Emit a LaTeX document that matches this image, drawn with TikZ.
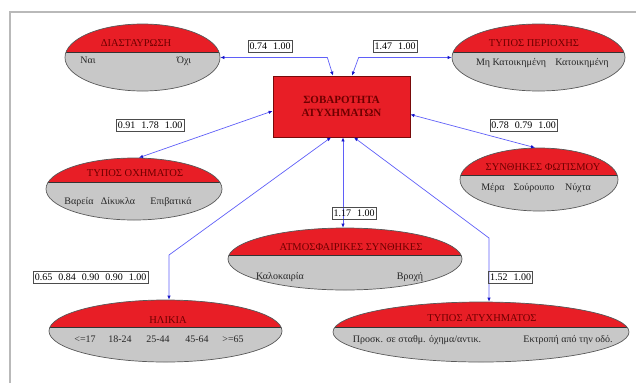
\documentclass[tikz,border=0pt]{standalone}
\usepackage{fontspec}
\setmainfont{Liberation Serif}
\usetikzlibrary{shapes.geometric,arrows.meta}
\definecolor{redfill}{RGB}{232,30,38}
\definecolor{grayfill}{RGB}{200,200,200}
\definecolor{titlecol}{RGB}{110,0,0}
\definecolor{rectborder}{RGB}{120,10,10}
\definecolor{edgecol}{RGB}{95,95,248}
\definecolor{tipcol}{RGB}{20,20,200}
\definecolor{framecol}{RGB}{185,185,185}
\newcommand{\lgap}{\hspace{0.6em}}
\begin{document}
\begin{tikzpicture}[x=1pt,y=-1pt,
  cat/.style={ellipse, draw=black!65, line width=0.7pt, fill=grayfill, inner sep=0pt,
    path picture={
      \fill[redfill] (path picture bounding box.north west) rectangle ([yshift=-#1]path picture bounding box.north east);
      \draw[black!80, line width=0.8pt] ([yshift=-#1]path picture bounding box.north west) -- ([yshift=-#1]path picture bounding box.north east);
    }},
  link/.style={draw=edgecol, line width=0.7pt, >={Latex[length=4pt,width=3.5pt,color=tipcol]}, <->},
  lab/.style={draw=black!70, line width=0.5pt, font=\fontsize{10}{12}\selectfont, inner xsep=1.5pt, inner ysep=2.2pt, text height=7pt, text depth=0.5pt},
  ttl/.style={font=\fontsize{10.5}{12}\selectfont, text=titlecol, inner sep=0pt, text height=7pt, text depth=0pt},
  val/.style={font=\fontsize{10}{12}\selectfont, text=black!85, inner sep=0pt, text height=7pt, text depth=2pt}
]
\useasboundingbox (0,0) rectangle (636,383);
\draw[framecol, line width=2pt] (10,383) -- (10,12) -- (636,12);

% category nodes
\node[cat=28pt, minimum width=155pt, minimum height=67pt] (diast) at (142.5,57.5) {};
\node[cat=28pt, minimum width=173pt, minimum height=67pt] (perioxi) at (538.5,57.5) {};
\node[cat=24pt, minimum width=176pt, minimum height=62pt] (oxima) at (134,189) {};
\node[cat=27pt, minimum width=158pt, minimum height=63pt] (fotismos) at (539,179.5) {};
\node[cat=27pt, minimum width=234pt, minimum height=62pt] (atmosf) at (345,259) {};
\node[cat=27pt, minimum width=233pt, minimum height=62pt] (ilikia) at (165.5,331) {};
\node[cat=25pt, minimum width=296pt, minimum height=60pt] (atyxima) at (481,332) {};

% central node
\node[draw=rectborder, fill=redfill, line width=0.8pt, minimum width=137pt, minimum height=61pt,
  align=center, font=\bfseries\fontsize{11}{13}\selectfont, text=titlecol] (rect) at (341.5,106.5) {ΣΟΒΑΡΟΤΗΤΑ\\ΑΤΥΧΗΜΑΤΩΝ};

% titles
\node[ttl] (t1) at (136,43) {ΔΙΑΣΤΑΥΡΩΣΗ};
\node[ttl] (t2) at (534,43) {ΤΥΠΟΣ ΠΕΡΙΟΧΗΣ};
\node[ttl] (t3) at (135,173) {ΤΥΠΟΣ ΟΧΗΜΑΤΟΣ};
\node[ttl] (t4) at (543,167) {ΣΥΝΘΗΚΕΣ ΦΩΤΙΣΜΟΥ};
\node[ttl] (t5) at (351,247) {ΑΤΜΟΣΦΑΙΡΙΚΕΣ ΣΥΝΘΗΚΕΣ};
\node[ttl] (t6) at (168,320) {ΗΛΙΚΙΑ};
\node[ttl] (t7) at (482,318) {ΤΥΠΟΣ ΑΤΥΧΗΜΑΤΟΣ};

% values
\node[val] (v11) at (88,61) {Ναι};
\node[val] (v12) at (184,61) {Όχι};
\node[val] (v21) at (511,63) {Μη Κατοικημένη};
\node[val] (v22) at (582,63) {Κατοικημένη};
\node[val] (v31) at (79,202) {Βαρεία};
\node[val] (v32) at (118,202) {Δίκυκλα};
\node[val] (v33) at (171,202) {Επιβατικά};
\node[val] (v41) at (493,188) {Μέρα};
\node[val] (v42) at (534,188) {Σούρουπο};
\node[val] (v43) at (578,188) {Νύχτα};
\node[val] (v51) at (280,277) {Καλοκαιρία};
\node[val] (v52) at (410,277) {Βροχή};
\node[val] (v61) at (85,340) {<=17};
\node[val] (v62) at (120,340) {18-24};
\node[val] (v63) at (158,340) {25-44};
\node[val] (v64) at (197,340) {45-64};
\node[val] (v65) at (233,340) {>=65};
\node[val] (v71) at (417,340) {Προσκ. σε σταθμ. όχημα/αντικ.};
\node[val] (v72) at (568,340) {Εκτροπή από την οδό.};

% connectors
\draw[link] (diast.east) -- ++(107,0) -- ([xshift=-8.5pt]rect.north);
\draw[link] (perioxi.west) -- ++(-93,0) -- ([xshift=10.5pt]rect.north);
\draw[link] ([yshift=-4.5pt]rect.west) -- ([xshift=5pt]oxima.north);
\draw[link] ([yshift=-8pt]rect.east) -- ([xshift=-4pt]fotismos.north);
\coordinate (k1) at (169,255);
\draw[link] ([xshift=-10.5pt]rect.south) -- (k1) -- (k1 |- ilikia.north);
\draw[link] ([xshift=1.5pt]rect.south) -- ([xshift=-2pt]atmosf.north);
\coordinate (k2) at (489,238);
\draw[link] ([xshift=12.5pt]rect.south) -- (k2) -- (k2 |- atyxima.north);

% labels
\node[lab] (l1) at (270,46) {0.74\lgap 1.00};
\node[lab] (l2) at (395,46) {1.47\lgap 1.00};
\node[lab] (l3) at (150,125) {0.91\lgap 1.78\lgap 1.00};
\node[lab] (l4) at (523.5,125) {0.78\lgap 0.79\lgap 1.00};
\node[lab] (l5) at (354,213) {1.17\lgap 1.00};
\node[lab] (l6) at (90.5,277.5) {0.65\lgap 0.84\lgap 0.90\lgap 0.90\lgap 1.00};
\node[lab] (l7) at (510.5,277.5) {1.52\lgap 1.00};
\end{tikzpicture}
\end{document}
